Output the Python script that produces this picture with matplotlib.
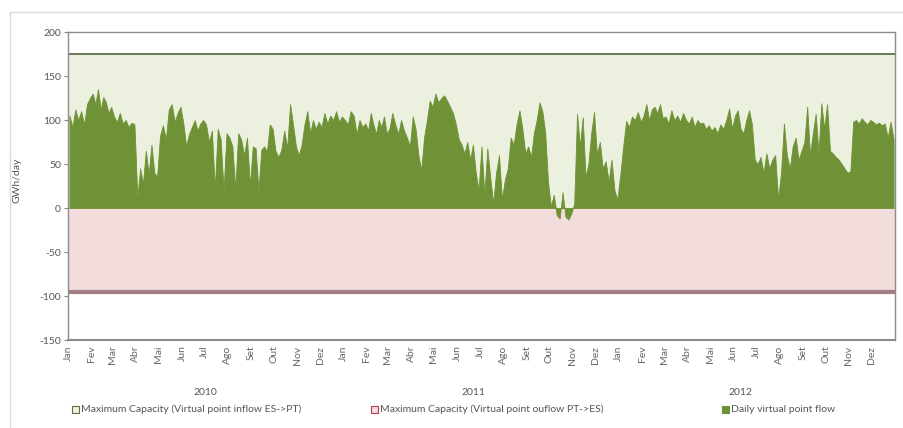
import matplotlib.pyplot as plt
from matplotlib.patches import Rectangle
import numpy as np
import pandas as pd

plt.rcParams['font.family'] = ['Lato', 'DejaVu Sans']
plt.rcParams['axes.unicode_minus'] = False

# Valores diários (8 amostras por mês, GWh/dia)
fluxo_2010 = [
    105, 92, 112, 100, 110, 95, 118, 125,   # Jan
    130, 118, 135, 112, 126, 120, 108, 115,  # Fev
    104, 98, 108, 96, 100, 92, 97, 95,       # Mar
    12, 45, 28, 65, 38, 72, 40, 36,          # Abr
    82, 94, 78, 112, 118, 98, 108, 115,      # Mai
    96, 70, 84, 92, 100, 88, 96, 100,        # Jun
    95, 75, 88, 22, 90, 78, 20, 85,          # Jul
    80, 70, 22, 85, 78, 60, 80, 25,          # Ago
    70, 68, 20, 66, 70, 64, 95, 90,          # Set
    65, 58, 66, 88, 68, 118, 95, 70,         # Out
    60, 72, 95, 110, 85, 100, 90, 98,        # Nov
    92, 108, 96, 105, 100, 110, 98, 104,     # Dez
]
fluxo_2011 = [
    100, 95, 110, 105, 84, 100, 92, 96,      # Jan
    88, 108, 95, 84, 100, 92, 104, 85,       # Fev
    90, 108, 95, 84, 100, 88, 80, 70,        # Mar
    104, 90, 60, 43, 80, 100, 122, 115,      # Abr
    130, 120, 125, 128, 122, 115, 108, 95,   # Mai
    78, 72, 62, 75, 55, 72, 40, 20,          # Jun
    70, 15, 68, 35, 5, 40, 60, 10,           # Jul
    32, 45, 80, 72, 95, 111, 90, 62,         # Ago
    70, 58, 85, 100, 120, 110, 86, 30,       # Set
    2, 15, -8, -12, 18, -10, -13, -6,        # Out
    5, 107, 70, 103, 35, 50, 85, 109,        # Nov
    61, 75, 45, 53, 30, 55, 20, 10,          # Dez
]
fluxo_2012 = [
    38, 70, 99, 92, 104, 100, 109, 98,       # Jan
    105, 118, 100, 112, 115, 108, 118, 102,  # Fev
    104, 96, 111, 100, 105, 98, 108, 100,    # Mar
    96, 104, 92, 100, 96, 97, 90, 94,        # Abr
    88, 92, 85, 95, 90, 100, 113, 90,        # Mai
    105, 111, 90, 85, 100, 111, 95, 55,      # Jun
    50, 58, 40, 62, 45, 55, 60, 10,          # Jul
    40, 96, 60, 45, 70, 80, 55, 65,          # Ago
    75, 115, 60, 85, 107, 62, 119, 90,       # Set
    118, 65, 62, 58, 55, 50, 45, 40,         # Out
    42, 98, 100, 96, 102, 98, 95, 100,       # Nov
    98, 95, 97, 94, 96, 80, 98, 78,          # Dez
]
cap_entrada = 175    # ES->PT
cap_saida = -96      # PT->ES

meses = ["Jan", "Fev", "Mar", "Abr", "Mai", "Jun",
         "Jul", "Ago", "Set", "Out", "Nov", "Dez"]
anos = ["2010", "2011", "2012"]

# Posição das amostras em dias desde 1/1/2010
inicio = pd.Timestamp("2010-01-01")
inicios_mes = pd.date_range("2010-01-01", "2013-01-01", freq="MS")
dias_mes = [(inicios_mes[i] - inicio).days for i in range(len(inicios_mes))]
x = []
for i in range(36):
    a, b = dias_mes[i], dias_mes[i + 1]
    for k in range(8):
        x.append(a + (k + 0.5) / 8 * (b - a))
x = np.array(x)
y = np.array(fluxo_2010 + fluxo_2011 + fluxo_2012)
total = dias_mes[-1]

fig = plt.figure(figsize=(9.04, 4.28), dpi=100)
ax = fig.add_axes([68 / 904, 1 - 340 / 428, 827 / 904, 308 / 428])

# Bandas de capacidade
ax.fill_between([0, total], 0, cap_entrada, color="#ebf1de", linewidth=0, zorder=1)
ax.plot([0, total], [cap_entrada, cap_entrada], color="#5d7046", linewidth=1.3, zorder=2)
ax.fill_between([0, total], cap_saida, 0, color="#f3dcdc", linewidth=0, zorder=1)
ax.plot([0, total], [cap_saida, cap_saida], color="#a27f84", linewidth=3, zorder=2)

# Fluxo diário
ax.fill_between(x, 0, y, color="#6f9236", linewidth=0.6, edgecolor="#6f9236", zorder=3)
ax.axhline(0, color="#e6cfa8", linewidth=0.8, zorder=2)

ax.set_xlim(0, total)
ax.set_ylim(-150, 200)
ax.set_yticks(range(-150, 201, 50))
ax.tick_params(axis="y", labelsize=7.5, labelcolor="#555555", color="#888888",
               length=3, width=0.8, pad=2)

ax.set_xticks(dias_mes[:-1])
ax.set_xticklabels(meses * 3, rotation=90, fontsize=7.5, color="#666666")
ax.tick_params(axis="x", length=0, pad=4)

for lado in ["left", "bottom", "top", "right"]:
    ax.spines[lado].set_color("#8c8c8c")
    ax.spines[lado].set_linewidth(1.0)
ax.spines["bottom"].set_linewidth(1.5)

ax.set_ylabel("GWh/day", fontsize=7.5, color="#555555")
ax.yaxis.set_label_coords(-0.056, 0.52)

for ano, pos in zip(anos, [0.166, 0.490, 0.813]):
    ax.text(pos, -0.17, ano, transform=ax.transAxes, ha="center", va="center",
            fontsize=7.5, color="#555555")

# Legenda
legenda = [
    ("Maximum Capacity (Virtual point inflow ES->PT)", "#ebf1de", "#5d7046", 72),
    ("Maximum Capacity (Virtual point ouflow PT->ES)", "#f3dcdc", "#b04050", 371),
    ("Daily virtual point flow", "#6f9236", "#6f9236", 722),
]
for texto, cor, borda, px in legenda:
    fig.patches.append(Rectangle((px / 904, 1 - 413 / 428), 7 / 904, 7 / 428,
                                 transform=fig.transFigure, facecolor=cor,
                                 edgecolor=borda, linewidth=0.8))
    fig.text((px + 9) / 904, 1 - 409.5 / 428, texto, fontsize=7.5,
             color="#555555", va="center", ha="left")

# Moldura exterior
fig.patches.append(Rectangle((10 / 904, -0.05), 1.0, 1 - 12 / 428 + 0.05,
                             transform=fig.transFigure, facecolor="none",
                             edgecolor="#d9d9d9", linewidth=1))

fig.savefig("out.png", dpi=100)
